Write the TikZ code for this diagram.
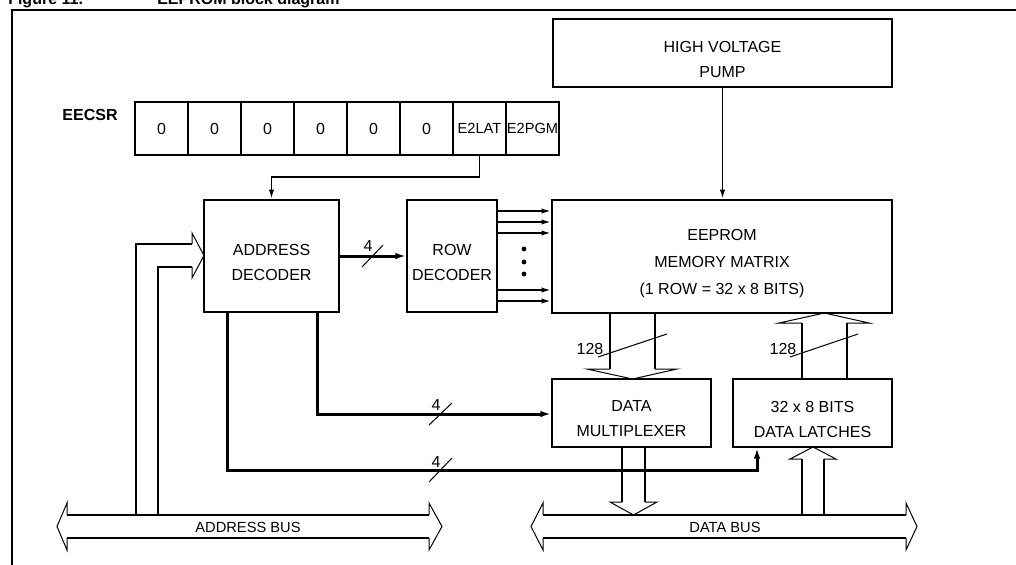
\documentclass[tikz,border=0pt]{standalone}
\usepackage{fontspec}
\setmainfont{Liberation Sans}
\usetikzlibrary{fit,arrows.meta,calc}
\begin{document}
\begin{tikzpicture}[x=0.75pt,y=-0.75pt,
  font=\fontsize{12}{18.75}\selectfont,
  box/.style={draw,line width=1.5pt,inner sep=0pt},
  txt/.style={align=center,inner sep=0pt,yshift=-4.5pt},
  cell/.style={draw,line width=1.5pt,inner sep=0pt,minimum width=39.75pt,minimum height=39.75pt},
  conn/.style={line width=1.3pt,-{Latex[length=7pt,width=4pt]}},
  thk/.style={line width=2.25pt,-{Latex[length=8pt,width=5pt]}},
  hshaft/.style={line width=1.5pt},
  hhead/.style={line width=0.75pt,line join=miter},
  slash/.style={line width=0.75pt},
  lbl/.style={inner sep=0pt},
]
\useasboundingbox (0,0) rectangle (1016,564);
% title (cut off at the top edge, as in the reference)
\node[anchor=base west,inner sep=0pt,font=\fontsize{12}{14}\bfseries\selectfont] (fig) at (8,4) {Figure 11.};
\node[anchor=base west,inner sep=0pt,font=\fontsize{12}{14}\bfseries\selectfont] (ttl) at (157,4) {EEPROM block diagram};
% frame
\draw[line width=1.5pt] (12,580) -- (12,10) -- (1030,10);
% blocks
\node[box,fit={(553,19) (892,87)}] (hv) {};
\node[txt] (hvt) at (hv.center) {HIGH VOLTAGE\\PUMP};
\node[font=\fontsize{12}{14}\bfseries\selectfont,inner sep=0pt] (eecsr) at (90,115) {EECSR};
\foreach \i/\t in {0/0,1/0,2/0,3/0,4/0,5/0}
  \node[cell] (r\i) at (161.5+53*\i,128.5) {\t};
\node[cell,font=\fontsize{11}{13}\selectfont] (r6) at (161.5+53*6,128.5) {E2LAT};
\node[cell,font=\fontsize{11}{13}\selectfont] (r7) at (161.5+53*7,128.5) {E2PGM};
\node[box,fit={(204,200) (339,312)}] (ad) {};
\node[txt] (adt) at (ad.center) {ADDRESS\\DECODER};
\node[box,fit={(407,200) (497,312)}] (rd) {};
\node[txt] (rdt) at (rd.center) {ROW\\DECODER};
\node[box,fit={(552,200) (892,313)}] (ee) {};
\node[txt,font=\fontsize{12}{20.25}\selectfont,yshift=-0.8pt] (eet) at (ee.center) {EEPROM\\MEMORY MATRIX\\(1 ROW = 32 x 8 BITS)};
\node[box,fit={(552,379) (711,447)}] (mux) {};
\node[txt] (muxt) at (mux.center) {DATA\\MULTIPLEXER};
\node[box,fit={(733,379) (892,447)}] (lat) {};
\node[txt] (latt) at (lat.center) {32 x 8 BITS\\DATA LATCHES};
% control connectors
\draw[conn] (r6.south) -- (r6.south |- 0,177) -| (ad.north);
\draw[conn] (hv.south) -- (hv.south |- ee.north);
\draw[thk] (ad.east) -- (rd.west);
\draw[slash] (362,267) -- (383,245);
\node[lbl] (n4a) at (368,246) {4};
\foreach \y in {211,222,233,290,301}
  \draw[conn] (rd.east |- 0,\y) -- (ee.west |- 0,\y);
\foreach \y in {249,262,274}
  \fill (524,\y) circle[radius=1.8pt];
\draw[thk] (ad.south -| 317,0) |- (mux.west |- 0,414);
\draw[slash] (429,425) -- (452,403);
\node[lbl] (n4b) at (436,405) {4};
\coordinate (bend) at (757,470);
\draw[thk] (ad.south -| 227,0) |- (bend) -- (lat.south -| bend);
\draw[slash] (429,482) -- (452,458);
\node[lbl] (n4c) at (436,462) {4};
% wide arrows EEPROM <-> mux / latches
\draw[hshaft] (610,313) -- (610,369) (655,313) -- (655,369);
\draw[hhead] (610,369) -- (587,369) -- (632.5,379) -- (677,369) -- (655,369);
\draw[slash] (598,357) -- (667,334);
\node[lbl] (n128a) at (590,349) {128};
\draw[hshaft] (802,379) -- (802,323) (847,379) -- (847,323);
\draw[hhead] (802,323) -- (779,323) -- (824.5,313) -- (869,323) -- (847,323);
\draw[slash] (790,357) -- (858,334);
\node[lbl] (n128b) at (783,349) {128};
% mux -> data bus, data bus -> latches
\draw[hshaft] (622,447) -- (622,502) (645,447) -- (645,502);
\draw[hhead] (622,502) -- (610,502) -- (633.5,515) -- (657,502) -- (645,502);
\draw[hshaft] (802,515) -- (802,459) (824,515) -- (824,459);
\draw[hhead] (802,459) -- (790,459) -- (813,447) -- (836,459) -- (824,459);
% address bus -> address decoder
\draw[hshaft] (136,515) -- (136,244) -- (192,244) (158,515) -- (158,267) -- (192,267);
\draw[hhead] (192,244) -- (192,233) -- (204,255.5) -- (192,278) -- (192,267);
% buses
\draw[hshaft] (67,515) -- (429,515) (67,538) -- (429,538);
\draw[hhead] (67,515) -- (67,503) -- (57,526.5) -- (67,550) -- (67,538)
             (429,515) -- (429,503) -- (442,526.5) -- (429,550) -- (429,538);
\node[lbl,font=\fontsize{11}{13}\selectfont] (abus) at (248,527) {ADDRESS BUS};
\draw[hshaft] (543,515) -- (906,515) (543,538) -- (906,538);
\draw[hhead] (543,515) -- (543,503) -- (531,526.5) -- (543,550) -- (543,538)
             (906,515) -- (906,503) -- (917,526.5) -- (906,550) -- (906,538);
\node[lbl,font=\fontsize{11}{13}\selectfont] (dbus) at (725,527) {DATA BUS};
\end{tikzpicture}
\end{document}
